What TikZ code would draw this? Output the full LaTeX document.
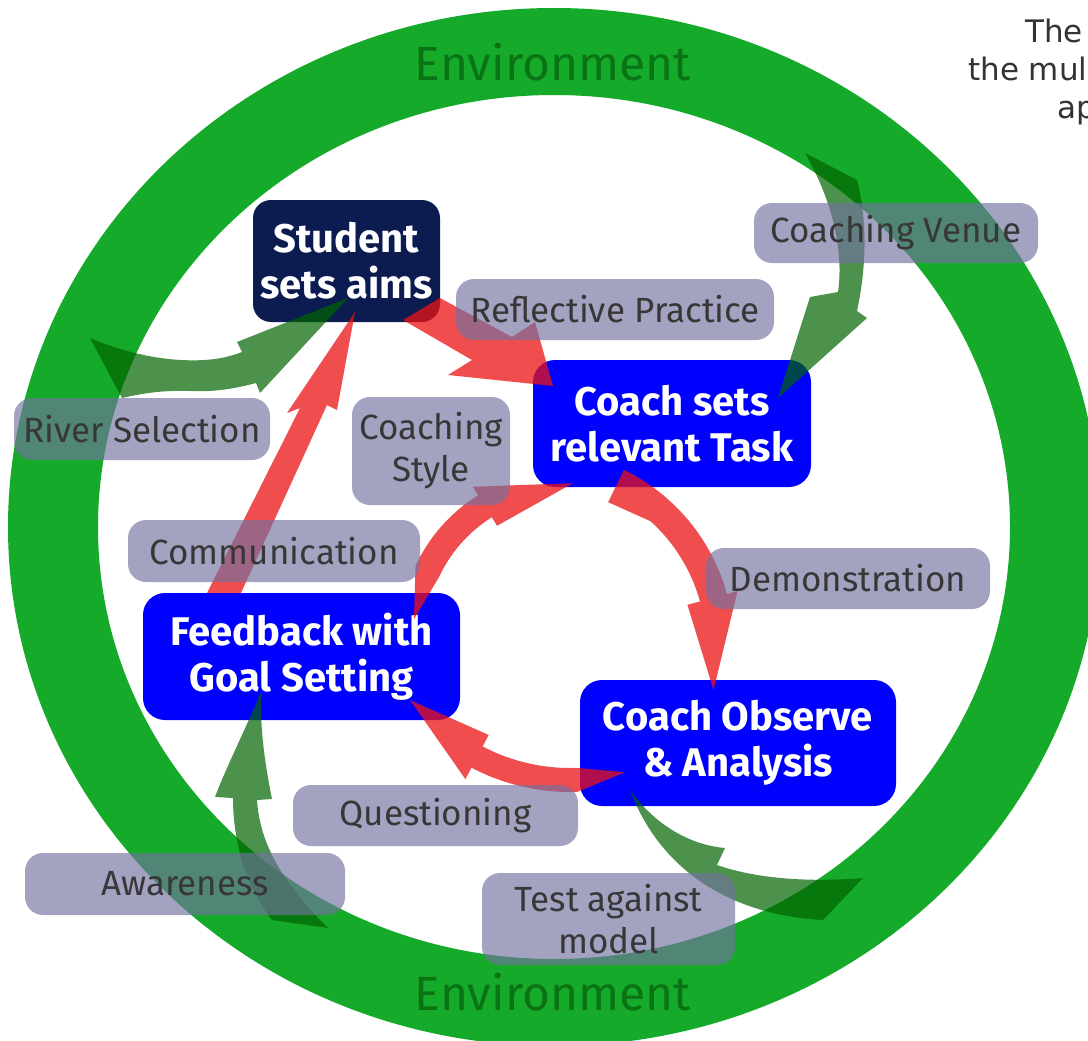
\documentclass[tikz,border=0pt]{standalone}
\usepackage{fontspec}
\setmainfont{Fira Sans}
\newfontfamily\notefont{DejaVu Sans}

\definecolor{ringgreen}{RGB}{21,170,42}
\definecolor{envgreen}{RGB}{10,115,20}
\definecolor{aimnavy}{RGB}{12,27,80}
\definecolor{taskblue}{RGB}{0,0,255}
\definecolor{tagfill}{RGB}{114,114,160}
\definecolor{tagtext}{RGB}{55,55,55}
\definecolor{arrred}{RGB}{235,20,20}
\definecolor{arrgreen}{RGB}{0,100,0}
\definecolor{notegray}{RGB}{51,51,51}

\tikzset{
  stagebox/.style={fill=taskblue, rounded corners=22pt, text=white, align=center,
    inner sep=0pt, font=\fontsize{40}{46}\selectfont\bfseries},
  tagbox/.style={fill=tagfill, fill opacity=.65, text opacity=1, text=tagtext,
    rounded corners=18pt, align=center, inner sep=0pt, font=\fontsize{35}{42}\selectfont},
  envtext/.style={text=envgreen, inner sep=0pt, font=\fontsize{48}{56}\selectfont},
  note/.style={text=notegray, inner sep=0pt, font=\notefont\fontsize{31}{38}\selectfont},
  redblock/.style={fill=arrred, fill opacity=.75},
  greenblock/.style={fill=arrgreen, fill opacity=.7},
}

\begin{document}
\begin{tikzpicture}[x=1pt,y=-1pt]
    \clip (0,0) rectangle (1088,1041);
    \fill[white] (0,0) rectangle (1088,1041);
    %the environment ring
    \fill[ringgreen, even odd rule] (554,527) ellipse [x radius=546, y radius=519]
                                    (554,527) ellipse [x radius=456, y radius=432];
    \node[envtext] (envtop) at (553,62) {Environment};
    \node[envtext] (envbot) at (553,992) {Environment};

    %the four stages
    \node[stagebox, fill=aimnavy, rounded corners=18pt, minimum width=187pt, minimum height=122pt] (aims) at (346.5,261) {Student\\sets aims};
    \node[stagebox, minimum width=278pt, minimum height=127pt] (task) at (672,423.5) {Coach sets\\relevant Task};
    \node[stagebox, minimum width=317pt, minimum height=127pt] (feedback) at (301.5,656.5) {Feedback with\\Goal Setting};
    \node[stagebox, minimum width=316pt, minimum height=126pt] (observe) at (738,743) {Coach Observe\\\& Analysis};

    %centres of the three bent red arrows
    \coordinate (taskturn) at (538,646);
    \coordinate (observeturn) at (570,580);
    \coordinate (feedbackturn) at (566,636);

    %red arrows
    \fill[redblock] (403,320) -- (440,298) -- (512,337) -- (535,322) -- (553,386) -- (448,375) -- (472,360) -- cycle;
    \fill[redblock] (207,593) -- (300,408) -- (287,413) -- (355,312) -- (337,410) -- (327,405) -- (241,593) -- cycle;
    \fill[redblock] ([shift={(296:196)}]taskturn) arc[start angle=296, end angle=344.6, radius=196]
        -- ([shift={(344.6:207)}]taskturn) -- ([shift={(374.1:181)}]taskturn) -- ([shift={(344.6:155)}]taskturn)
        -- ([shift={(344.6:168)}]taskturn) arc[start angle=344.6, end angle=312, radius=168]
        -- ([shift={(296:160)}]taskturn) -- cycle;
    \fill[redblock] ([shift={(74:200)}]observeturn) -- ([shift={(88:212)}]observeturn)
        arc[start angle=88, end angle=117.7, radius=212]
        -- ([shift={(117.7:225)}]observeturn) -- ([shift={(143.1:200)}]observeturn) -- ([shift={(117.7:175)}]observeturn)
        -- ([shift={(117.7:188)}]observeturn) arc[start angle=117.7, end angle=88, radius=188] -- cycle;
    \fill[redblock] ([shift={(186.3:153)}]feedbackturn) -- ([shift={(205:166)}]feedbackturn)
        arc[start angle=205, end angle=238, radius=166]
        -- ([shift={(238:176)}]feedbackturn) -- ([shift={(272.6:153)}]feedbackturn) -- ([shift={(238:130)}]feedbackturn)
        -- ([shift={(238:140)}]feedbackturn) arc[start angle=238, end angle=205, radius=140] -- cycle;

    %green arrows, from the ring
    \fill[greenblock] (90,338) .. controls (130,355) and (170,362) .. (205,360) .. controls (220,359) and (232,356) .. (242,352)
        -- (237,342) -- (348,298) -- (260,393) -- (256,383)
        .. controls (230,390) and (210,392) .. (190,391) .. controls (160,390) and (140,394) .. (122,398) -- cycle;
    \fill[greenblock] (805,153) .. controls (832,200) and (844,250) .. (838,292) -- (810,297) -- (778,398) -- (867,318)
        -- (857,311) .. controls (868,260) and (866,215) .. (857,180) -- cycle;
    \fill[greenblock] (262,690) .. controls (245,730) and (225,770) .. (215,797) -- (233,798)
        .. controls (233,840) and (245,885) .. (272,920) -- (328,928) .. controls (290,890) and (260,850) .. (257,800)
        -- (272,799) .. controls (264,760) and (259,720) .. (262,690) -- cycle;
    \fill[greenblock] (630,790) .. controls (655,825) and (690,845) .. (725,848) -- (717,865)
        .. controls (760,880) and (815,882) .. (863,878) -- (823,920) .. controls (730,915) and (660,870) .. (630,790) -- cycle;

    %labels on the arrows
    \node[tagbox, minimum width=284pt, minimum height=60pt] (venue) at (896,233) {Coaching Venue};
    \node[tagbox, minimum width=318pt, minimum height=61pt] (reflect) at (615,309.5) {Reflective Practice};
    \node[tagbox, minimum width=256pt, minimum height=62pt] (river) at (142,429) {River Selection};
    \node[tagbox, minimum width=158pt, minimum height=108pt] (style) at (431,451) {Coaching\\Style};
    \node[tagbox, minimum width=292pt, minimum height=62pt] (talk) at (274,551) {Communication};
    \node[tagbox, minimum width=284pt, minimum height=61pt] (demo) at (848,578.5) {Demonstration};
    \node[tagbox, minimum width=285pt, minimum height=61pt] (quest) at (435.5,815.5) {Questioning};
    \node[tagbox, minimum width=320pt, minimum height=62pt] (aware) at (185,884) {Awareness};
    \node[tagbox, minimum width=253pt, minimum height=92pt] (test) at (608.5,919) {Test against\\model};

    %caption, cut by the edge
    \node[note, anchor=base west] (note1) at (1025,43) {The};
    \node[note, anchor=base west] (note2) at (968,81) {the mul};
    \node[note, anchor=base west] (note3) at (1057,118) {ap};
\end{tikzpicture}
\end{document}
